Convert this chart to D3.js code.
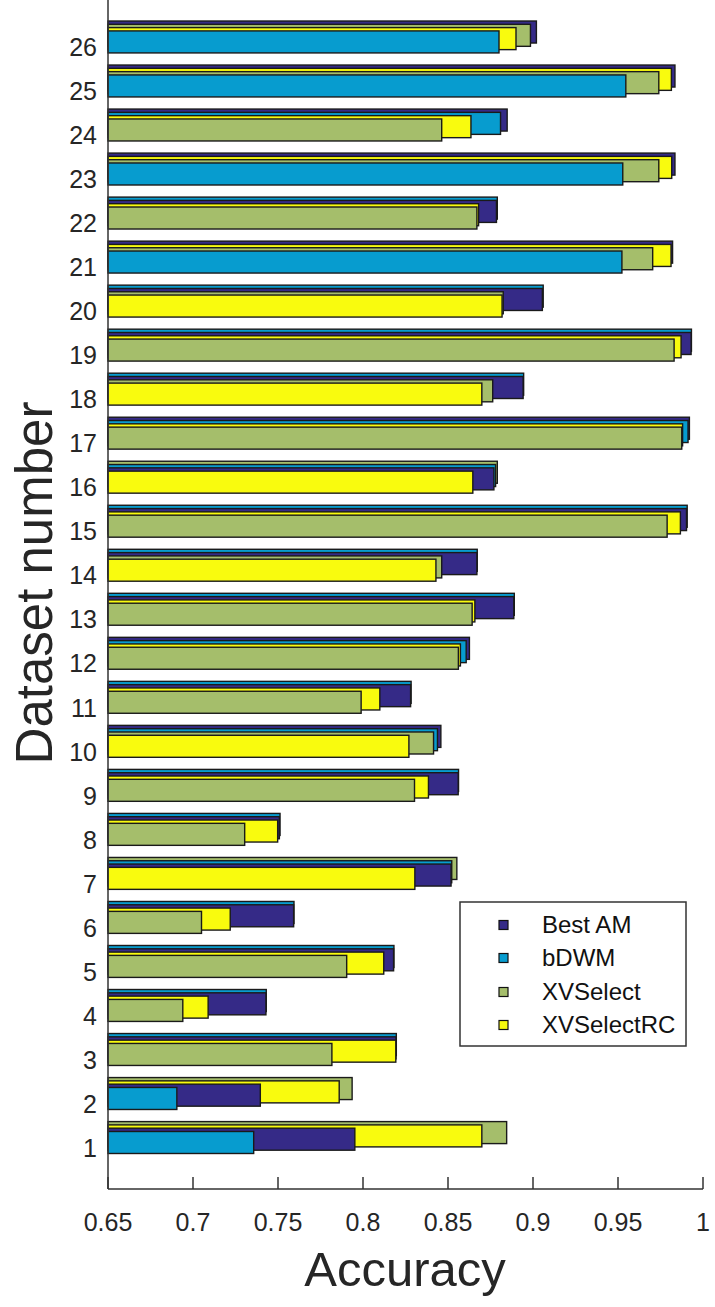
<!DOCTYPE html>
<html>
<head>
<meta charset="utf-8">
<script src="https://cdn.jsdelivr.net/npm/d3@7"></script>
<style>
  html, body { margin: 0; padding: 0; background: #fff; }
  svg { display: block; font-family: "Liberation Sans", Arial, sans-serif; }
</style>
</head>
<body>
<svg id="chart" width="715" height="1307"></svg>
<script>
// ---- data ----
const datasets = d3.range(1, 27); // 1..26
const seriesNames = ["Best AM", "bDWM", "XVSelect", "XVSelectRC"];
const seriesColors = ["#352a87", "#079ccf", "#a5be6b", "#f9fb0e"];
const bestAM = [0.7952, 0.7396, 0.8194, 0.7429, 0.8180, 0.7592, 0.8518, 0.7508, 0.8560, 0.8458, 0.8280, 0.8626, 0.8887, 0.8670, 0.9903, 0.8770, 0.9920, 0.8942, 0.9930, 0.9055, 0.9821, 0.8785, 0.9835, 0.8848, 0.9835, 0.9020];
const bDWM = [0.7357, 0.6905, 0.8196, 0.7431, 0.8182, 0.7594, 0.8522, 0.7512, 0.8562, 0.8438, 0.8283, 0.8607, 0.8890, 0.8672, 0.9907, 0.8780, 0.9912, 0.8945, 0.9932, 0.9060, 0.9523, 0.8790, 0.9528, 0.8809, 0.9546, 0.8800];
const xvSelect = [0.8845, 0.7936, 0.7817, 0.6940, 0.7904, 0.7050, 0.8552, 0.7304, 0.8303, 0.8415, 0.7989, 0.8561, 0.8642, 0.8463, 0.9789, 0.8790, 0.9875, 0.8763, 0.9830, 0.8825, 0.9704, 0.8670, 0.9740, 0.8463, 0.9740, 0.8985];
const xvSelectRC = [0.8699, 0.7860, 0.8193, 0.7089, 0.8122, 0.7219, 0.8305, 0.7498, 0.8385, 0.8270, 0.8099, 0.8573, 0.8658, 0.8429, 0.9867, 0.8646, 0.9880, 0.8699, 0.9871, 0.8818, 0.9812, 0.8680, 0.9816, 0.8635, 0.9814, 0.8900];
const xTicks = [0.65, 0.7, 0.75, 0.8, 0.85, 0.9, 0.95, 1];
const xTickLabels = ["0.65", "0.7", "0.75", "0.8", "0.85", "0.9", "0.95", "1"];
const allSeries = [bestAM, bDWM, xvSelect, xvSelectRC];

// ---- layout ----
const svg = d3.select("#chart");
const yMin = 0.0686;
const x = d3.scaleLinear().domain([0.65, 1]).range([108, 703]);
const y = d3.scaleLinear().domain([yMin, 27.1]).range([1189, -1]);
const halfH = 0.25, frontShift = 0.125, layerStep = 0.075;

// y ticks (behind bars)
svg.append("g").selectAll("line").data(datasets).join("line")
  .attr("x1", x(0.65)).attr("x2", x(0.65) + 12)
  .attr("y1", d => y(d)).attr("y2", d => y(d))
  .attr("stroke", "#333").attr("stroke-width", 1);

// bars
const gBars = svg.append("g");
datasets.slice().reverse().forEach((ds) => {
  const idx = ds - 1;
  const items = allSeries.map((s, si) => ({ si, v: s[idx] }))
    .sort((a, b) => b.v - a.v); // longest at back
  items.forEach((it, order) => {
    const layer = items.length - 1 - order; // 3 = back, 0 = front
    const c = ds + frontShift + layer * layerStep;
    gBars.append("rect")
      .attr("x", x(0.65))
      .attr("y", y(c + halfH))
      .attr("width", x(it.v) - x(0.65))
      .attr("height", y(c - halfH) - y(c + halfH))
      .attr("fill", seriesColors[it.si])
      .attr("stroke", "#1a1a1a")
      .attr("stroke-width", 1.4);
  });
});

// axes lines
svg.append("line").attr("x1", x(0.65)).attr("x2", x(0.65))
  .attr("y1", 0).attr("y2", y(yMin)).attr("stroke", "#333").attr("stroke-width", 1.5);
svg.append("line").attr("x1", x(0.65)).attr("x2", x(1))
  .attr("y1", y(yMin)).attr("y2", y(yMin)).attr("stroke", "#333").attr("stroke-width", 1.5);

// x ticks
svg.append("g").selectAll("line").data(xTicks).join("line")
  .attr("x1", d => x(d)).attr("x2", d => x(d))
  .attr("y1", y(yMin)).attr("y2", y(yMin) - 12)
  .attr("stroke", "#333").attr("stroke-width", 1.5);
svg.append("g").selectAll("text").data(xTicks).join("text")
  .attr("x", d => x(d)).attr("y", 1231)
  .attr("text-anchor", "middle").attr("font-size", 25).attr("fill", "#262626")
  .text((d, i) => xTickLabels[i]);

// y tick labels
svg.append("g").selectAll("text").data(datasets).join("text")
  .attr("x", 97).attr("y", d => y(d))
  .attr("dy", "0.35em")
  .attr("text-anchor", "end").attr("font-size", 25).attr("fill", "#262626")
  .text(d => d);

// axis titles
svg.append("text").attr("x", 405).attr("y", 1286)
  .attr("text-anchor", "middle").attr("font-size", 49).attr("fill", "#262626")
  .text("Accuracy");
svg.append("text")
  .attr("transform", "translate(52,583) rotate(-90)")
  .attr("text-anchor", "middle").attr("font-size", 51).attr("fill", "#262626")
  .text("Dataset number");

// legend
const lg = svg.append("g");
lg.append("rect").attr("x", 460).attr("y", 902).attr("width", 226).attr("height", 144)
  .attr("fill", "#fff").attr("stroke", "#333").attr("stroke-width", 1.5);
const legendY = [925, 958, 992, 1025];
seriesNames.forEach((name, i) => {
  lg.append("rect").attr("x", 499).attr("y", legendY[i] - 4.5).attr("width", 9).attr("height", 9)
    .attr("fill", seriesColors[i]).attr("stroke", "#111").attr("stroke-width", 1.2);
  lg.append("text").attr("x", 542).attr("y", legendY[i]).attr("dy", "0.35em")
    .attr("font-size", 24).attr("fill", "#111").text(name);
});
</script>
</body>
</html>
